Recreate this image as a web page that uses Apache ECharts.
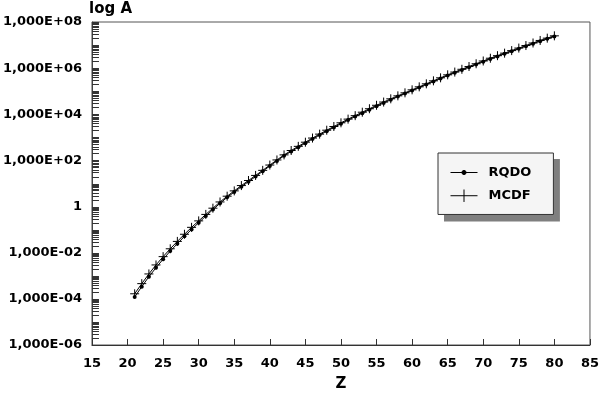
<!DOCTYPE html>
<html>
<head>
<meta charset="utf-8">
<script src="https://cdn.jsdelivr.net/npm/echarts@6/dist/echarts.min.js"></script>
<style>
  html, body { margin: 0; padding: 0; background: #fff; }
  #chart { width: 602px; height: 397px; }
</style>
</head>
<body>
<div id="chart"></div>
<script>
// Z values of the isoelectronic sequence
const zValues = [21, 22, 23, 24, 25, 26, 27, 28, 29, 30,
  31, 32, 33, 34, 35, 36, 37, 38, 39, 40,
  41, 42, 43, 44, 45, 46, 47, 48, 49, 50,
  51, 52, 53, 54, 55, 56, 57, 58, 59, 60,
  61, 62, 63, 64, 65, 66, 67, 68, 69, 70,
  71, 72, 73, 74, 75, 76, 77, 78, 79, 80]

// log10(A)
const rqdoLogA = [-3.92, -3.47, -3.04, -2.65, -2.28, -1.93, -1.61, -1.29, -0.99, -0.70,
  -0.41, -0.13, 0.14, 0.40, 0.63, 0.86, 1.08, 1.30, 1.53, 1.76,
  1.98, 2.20, 2.39, 2.57, 2.75, 2.93, 3.10, 3.27, 3.43, 3.59,
  3.75, 3.90, 4.05, 4.20, 4.35, 4.49, 4.63, 4.77, 4.90, 5.03,
  5.16, 5.29, 5.42, 5.55, 5.68, 5.80, 5.92, 6.04, 6.16, 6.28,
  6.40, 6.51, 6.62, 6.73, 6.84, 6.95, 7.06, 7.17, 7.27, 7.37]

const mcdfLogA = [-3.78, -3.34, -2.92, -2.53, -2.17, -1.83, -1.51, -1.20, -0.90, -0.62,
  -0.34, -0.07, 0.20, 0.45, 0.68, 0.91, 1.13, 1.35, 1.57, 1.80,
  2.02, 2.24, 2.43, 2.61, 2.79, 2.97, 3.14, 3.31, 3.47, 3.63,
  3.79, 3.94, 4.09, 4.24, 4.39, 4.53, 4.67, 4.80, 4.93, 5.06,
  5.19, 5.32, 5.45, 5.58, 5.71, 5.83, 5.95, 6.07, 6.19, 6.31,
  6.43, 6.54, 6.65, 6.76, 6.87, 6.98, 7.09, 7.20, 7.30, 7.40]

// y axis decades (exponents); labelled ones every second decade
const decades = [-6, -5, -4, -3, -2, -1, 0, 1, 2, 3, 4, 5, 6, 7, 8]
const labelledDecades = [-6, -4, -2, 0, 2, 4, 6, 8]
const xTicks = [15, 20, 25, 30, 35, 40, 45, 50, 55, 60, 65, 70, 75, 80, 85]
const seriesNames = ['RQDO', 'MCDF']

const FONT = 'DejaVu Sans'

function pairs(logs){
  return zValues.map((z, i) => [z, Math.pow(10, logs[i])])
}

// minor tick positions of the log axis (1..9 x 10^n)
const logTicks = []
decades.forEach(d => {
  for (let k = 1; k <= 9; k++) {
    if (d === decades[decades.length - 1] && k > 1) break
    logTicks.push([xTicks[0], k * Math.pow(10, d)])
  }
})

function expLabel(v){
  const e = Math.round(Math.log10(v))
  if (labelledDecades.indexOf(e) < 0) return ''
  if (e === 0) return '1'
  const s = e < 0 ? '-' : '+'
  const a = Math.abs(e)
  return '1,000E' + s + (a < 10 ? '0' + a : a)
}

const legendIcons = {
  RQDO: 'path://M0,5 L26,5 M13,3 A2,2 0 1,1 13,7 A2,2 0 1,1 13,3 Z',
  MCDF: 'path://M0,5 L26,5 M13,-1 L13,11'
}

function makeLegend(x, y, isShadow){
  return {
    orient: 'vertical',
    left: x, top: y,
    z: isShadow ? 3 : 4,
    selectedMode: false,
    padding: [13, 22, 12, 12],
    itemGap: 10,
    itemWidth: 27,
    itemHeight: 14,
    backgroundColor: isShadow ? '#7f7f7f' : '#f5f5f5',
    borderColor: isShadow ? 'transparent' : '#333',
    borderWidth: isShadow ? 0 : 1,
    itemStyle: isShadow
      ? {opacity: 0}
      : {color: '#000', borderColor: '#000', borderWidth: 1},
    textStyle: {
      fontFamily: FONT, fontWeight: 'bold', fontSize: 13,
      color: isShadow ? 'transparent' : '#000', padding: [0, 0, 0, 6]
    },
    data: seriesNames.map(n => ({name: n, icon: legendIcons[n]}))
  }
}

const myChart = echarts.init(document.getElementById('chart'))
myChart.setOption({
  animation: false,
  textStyle: {fontFamily: FONT},
  grid: {
    left: 90, right: 11, top: 22, bottom: 51,
    show: true, borderColor: '#555', borderWidth: 1, backgroundColor: 'transparent'
  },
  legend: [makeLegend(444, 159, true), makeLegend(438, 153, false)],
  xAxis: {
    type: 'value',
    min: 15, max: 85, interval: 5,
    name: 'Z',
    nameLocation: 'middle',
    nameGap: 32,
    nameTextStyle: {fontFamily: FONT, fontWeight: 'bold', fontSize: 15, color: '#000'},
    axisLine: {lineStyle: {color: '#333'}},
    axisTick: {inside: true, length: 6, lineStyle: {color: '#333'}},
    axisLabel: {fontFamily: FONT, fontWeight: 'bold', fontSize: 13, color: '#000', margin: 12},
    splitLine: {show: false}
  },
  yAxis: {
    type: 'log',
    logBase: 10,
    min: 1e-6, max: 1e8,
    interval: 1,
    name: 'log A',
    nameLocation: 'end',
    nameGap: 5,
    nameTextStyle: {fontFamily: FONT, fontWeight: 'bold', fontSize: 15, color: '#000', align: 'left', padding: [0, 0, 0, -3]},
    axisLine: {show: true, lineStyle: {color: '#444'}},
    axisTick: {show: false},
    axisLabel: {
      fontFamily: FONT, fontWeight: 'bold', fontSize: 13, color: '#000', margin: 10,
      formatter: expLabel
    },
    splitLine: {show: false}
  },
  series: [
    {
      type: 'custom',
      silent: true,
      z: 1,
      data: logTicks,
      renderItem: function(params, api){
        const p = api.coord([api.value(0), api.value(1)])
        const y = Math.round(p[1]) + 0.5
        return {
          type: 'line',
          shape: {x1: p[0], y1: y, x2: p[0] + 7, y2: y},
          style: {stroke: '#333', lineWidth: 1}
        }
      }
    },
    {
      name: seriesNames[0],
      type: 'line',
      data: pairs(rqdoLogA),
      symbol: 'circle',
      symbolSize: 4,
      itemStyle: {color: '#000'},
      lineStyle: {color: '#000', width: 1}
    },
    {
      name: seriesNames[1],
      type: 'line',
      data: pairs(mcdfLogA),
      symbol: 'path://M5,0 L5,10 M0,5 L10,5',
      symbolSize: 9,
      itemStyle: {color: '#000', borderColor: '#000', borderWidth: 1},
      lineStyle: {color: '#000', width: 1}
    }
  ]
})
</script>
</body>
</html>
